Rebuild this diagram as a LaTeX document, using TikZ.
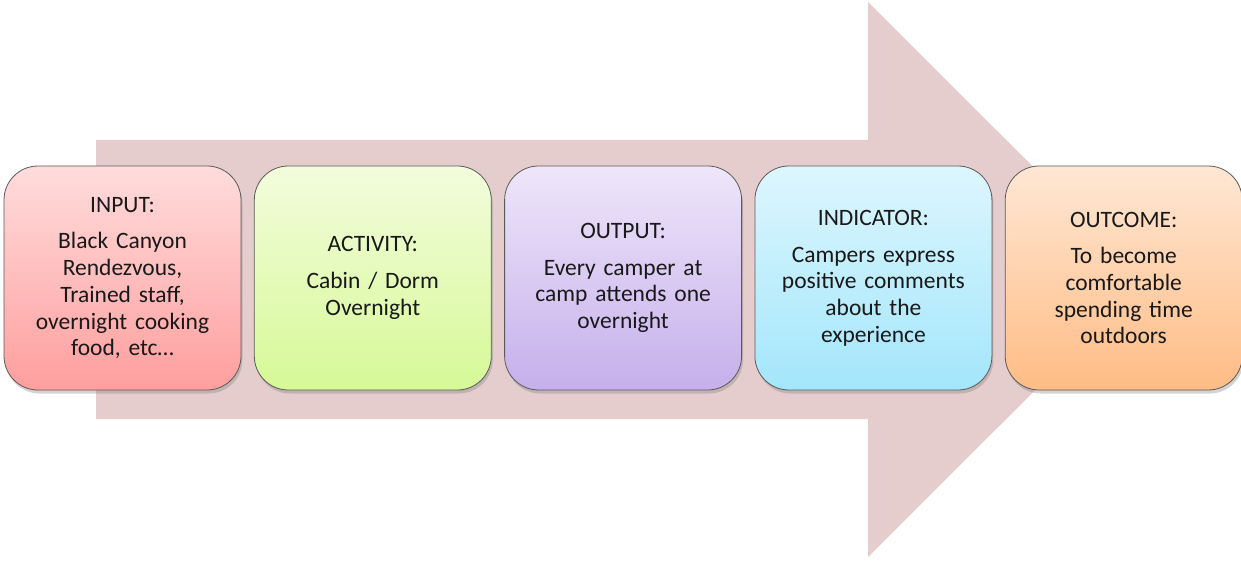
\documentclass[tikz,border=0pt]{standalone}
\usepackage{fontspec}
\setmainfont{Carlito}
\usetikzlibrary{positioning,shadows}
\definecolor{flowpink}{HTML}{E5CDCD}
\definecolor{framegray}{HTML}{5A5A5A}
\definecolor{inputtop}{HTML}{FFDCDC}
\definecolor{inputbot}{HTML}{FF9E9E}
\definecolor{activitytop}{HTML}{F3FCDD}
\definecolor{activitybot}{HTML}{D6F996}
\definecolor{outputtop}{HTML}{EEE6FA}
\definecolor{outputbot}{HTML}{C6AFEB}
\definecolor{indicatortop}{HTML}{DDF6FE}
\definecolor{indicatorbot}{HTML}{A3E6FB}
\definecolor{outcometop}{HTML}{FFE7D4}
\definecolor{outcomebot}{HTML}{FFBC85}

\tikzset{
  stagebox/.style={draw=framegray,line width=.8pt,rounded corners=34pt,
    minimum width=237pt,minimum height=224pt,text width=225pt,align=center,
    text=black!90,inner sep=0pt,
    drop shadow={shadow xshift=1.5pt,shadow yshift=-3.5pt,opacity=.35}},
}

\begin{document}
\begin{tikzpicture}[x=1pt,y=-1pt,font=\fontsize{23.5}{26.7}\selectfont]
      \useasboundingbox (0,0) rectangle (1241,561);
      % big arrow behind the stages
      \fill[flowpink](96,140)--(868,140)--(868,2)--(1146,279.5)--(868,557)--(868,419)--(96,419)--cycle;
      \node[stagebox,top color=inputtop,bottom color=inputbot] (input) at (122.5,278)
        {INPUT:\\[10pt]Black Canyon\\Rendezvous,\\Trained staff,\\overnight cooking\\food, etc…};
      \node[stagebox,top color=activitytop,bottom color=activitybot,right=12.5pt of input] (activity)
        {ACTIVITY:\\[10pt]Cabin / Dorm\\Overnight};
      \node[stagebox,top color=outputtop,bottom color=outputbot,right=12.5pt of activity] (output)
        {OUTPUT:\\[10pt]Every camper at\\camp attends one\\overnight};
      \node[stagebox,top color=indicatortop,bottom color=indicatorbot,right=12.5pt of output] (indicator)
        {INDICATOR:\\[10pt]Campers express\\positive comments\\about the\\experience};
      \node[stagebox,top color=outcometop,bottom color=outcomebot,right=12.5pt of indicator] (outcome)
        {OUTCOME:\\[10pt]To become\\comfortable\\spending time\\outdoors};
    \end{tikzpicture}
\end{document}
